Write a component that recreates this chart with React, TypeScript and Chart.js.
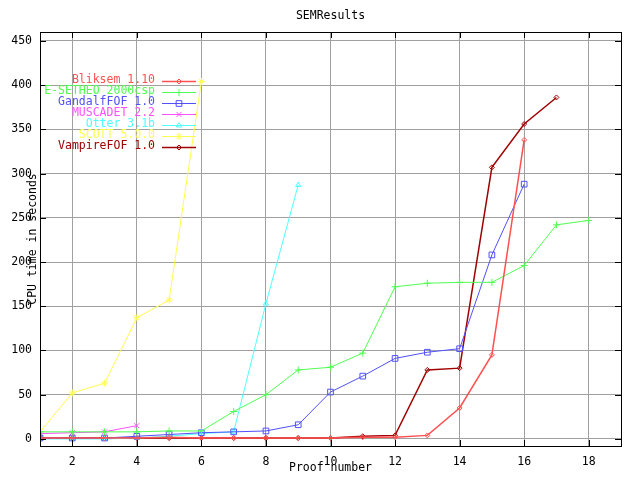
import React, { useEffect, useRef } from "react";
import { Chart, registerables } from "chart.js";
import { drawPoint } from "chart.js/helpers";

Chart.register(...registerables);

const TITLE = "SEMResults";
const X_LABEL = "Proof number";
const Y_LABEL = "CPU time in seconds";
const X_TICKS = [2, 4, 6, 8, 10, 12, 14, 16, 18];
const Y_TICKS = [0, 50, 100, 150, 200, 250, 300, 350, 400, 450];

const SERIES_NAMES = [
  "Bliksem 1.10",
  "E-SETHEO 2000csp",
  "GandalfFOF 1.0",
  "MUSCADET 2.2",
  "Otter 3.1b",
  "SCOTT 5.0.0",
  "VampireFOF 1.0",
];
const BLIKSEM = [1, 1, 1, 1, 2, 1, 1, 1, 1, 1, 2, 2, 4, 35, 95, 338];
const ESETHEO = [8, 8, 8, 8, 9, 9, 31, 50, 78, 81, 97, 172, 176, 177, 177, 196, 242, 247];
const GANDALF = [1, 1, 1, 3, 5, 7, 8, 9, 16, 53, 71, 91, 98, 102, 208, 288];
const MUSCADET = [6, 7, 8, 15];
const OTTER = [0, 0, 0, 1, 3, 6, 8, 153, 287];
const SCOTT = [8, 52, 63, 137, 157, 404];
const VAMPIRE = [1, 1, 1, 1, 1, 1, 1, 1, 1, 1, 3, 4, 78, 80, 307, 356, 386];

const SERIES_VALUES = [BLIKSEM, ESETHEO, GANDALF, MUSCADET, OTTER, SCOTT, VAMPIRE];
const COLORS = ["#ff5050", "#50ff50", "#5050ff", "#ff50ff", "#50ffff", "#ffff50", "#a00000"];
const POINT_STYLES = ["rectRot", "cross", "rect", "crossRot", "triangle", "star", "rectRot"];
const POINT_RADII = [2.5, 3.5, 4, 3.5, 3, 3.5, 2.5];
const LINE_WIDTHS = [1.5, 1, 1, 1, 1, 1, 1.5];

const FONT = "11.5px 'DejaVu Sans Mono', monospace";

const decorPlugin = {
  id: "decor",
  afterDatasetsDraw(chart: any) {
    const { ctx, chartArea } = chart;
    const { left, right, top, bottom } = chartArea;
    const xs = chart.scales.x;
    const ys = chart.scales.y;
    ctx.save();
    ctx.strokeStyle = "#000000";
    ctx.lineWidth = 1;
    ctx.strokeRect(Math.round(left) + 0.5, Math.round(top) + 0.5, Math.round(right - left), Math.round(bottom - top));
    ctx.beginPath();
    X_TICKS.forEach((v) => {
      const px = Math.round(xs.getPixelForValue(v)) + 0.5;
      ctx.moveTo(px, bottom);
      ctx.lineTo(px, bottom - 6);
      ctx.moveTo(px, top);
      ctx.lineTo(px, top + 6);
    });
    Y_TICKS.forEach((v) => {
      const py = Math.round(ys.getPixelForValue(v)) + 0.5;
      ctx.moveTo(left, py);
      ctx.lineTo(left + 6, py);
      ctx.moveTo(right, py);
      ctx.lineTo(right - 6, py);
    });
    ctx.stroke();

    ctx.font = FONT;
    ctx.textBaseline = "middle";
    ctx.textAlign = "right";
    chart.data.datasets.forEach((ds: any, i: number) => {
      const y = 80.5 + i * 11;
      ctx.fillStyle = ds.borderColor;
      ctx.fillText(ds.label, 155, y);
      ctx.strokeStyle = ds.borderColor;
      ctx.lineWidth = ds.borderWidth;
      ctx.beginPath();
      ctx.moveTo(162, Math.round(y) + 0.5);
      ctx.lineTo(196, Math.round(y) + 0.5);
      ctx.stroke();
      ctx.lineWidth = 1;
      ctx.fillStyle = "rgba(0,0,0,0)";
      drawPoint(
        ctx,
        { pointStyle: ds.pointStyle, radius: ds.pointRadius, borderWidth: 1, rotation: 0 } as any,
        179,
        Math.round(y) + 0.5
      );
    });

    ctx.fillStyle = "#000000";
    ctx.textAlign = "center";
    ctx.fillText(TITLE, (left + right) / 2, 16);
    ctx.fillText(X_LABEL, (left + right) / 2, 468);
    ctx.translate(33, (top + bottom) / 2);
    ctx.rotate(-Math.PI / 2);
    ctx.fillText(Y_LABEL, 0, 0);
    ctx.restore();
  },
};

export default function App() {
  const canvasRef = useRef<HTMLCanvasElement | null>(null);

  useEffect(() => {
    document.body.style.margin = "0";
    const canvas = canvasRef.current;
    if (!canvas) return;
    const datasets = SERIES_NAMES.map((name, i) => ({
      label: name,
      data: SERIES_VALUES[i].map((v, j) => ({ x: j + 1, y: v })),
      borderColor: COLORS[i],
      backgroundColor: "transparent",
      pointBackgroundColor: "transparent",
      pointBorderColor: COLORS[i],
      pointStyle: POINT_STYLES[i],
      pointRadius: POINT_RADII[i],
      pointBorderWidth: 1,
      borderWidth: LINE_WIDTHS[i],
      tension: 0,
      fill: false,
    }));
    const chart = new Chart(canvas, {
      type: "line",
      data: { datasets },
      options: {
        animation: false,
        responsive: false,
        devicePixelRatio: 1,
        layout: { padding: { top: 32, right: 19, left: 0, bottom: 0 } },
        plugins: { legend: { display: false }, title: { display: false }, tooltip: { enabled: false } },
        scales: {
          x: {
            type: "linear",
            min: 1,
            max: 19,
            afterBuildTicks: (scale: any) => {
              scale.ticks = X_TICKS.map((v) => ({ value: v }));
            },
            afterFit: (scale: any) => {
              scale.height = 34;
            },
            grid: { color: "#a0a0a0", lineWidth: 1, drawTicks: false },
            border: { display: false },
            ticks: {
              color: "#000000",
              font: { family: "'DejaVu Sans Mono'", size: 11.5 },
              padding: 9,
              maxRotation: 0,
              autoSkip: false,
            },
          },
          y: {
            type: "linear",
            min: -8,
            max: 460,
            afterBuildTicks: (scale: any) => {
              scale.ticks = Y_TICKS.map((v) => ({ value: v }));
            },
            afterFit: (scale: any) => {
              scale.width = 40;
            },
            grid: { color: "#a0a0a0", lineWidth: 1, drawTicks: false },
            border: { display: false },
            ticks: {
              color: "#000000",
              font: { family: "'DejaVu Sans Mono'", size: 11.5 },
              padding: 8,
              autoSkip: false,
            },
          },
        },
      },
      plugins: [decorPlugin],
    } as any);
    return () => chart.destroy();
  }, []);

  return (
    <div style={{ width: 640, height: 480, background: "#ffffff" }}>
      <canvas ref={canvasRef} width={640} height={480} style={{ display: "block" }} />
    </div>
  );
}
